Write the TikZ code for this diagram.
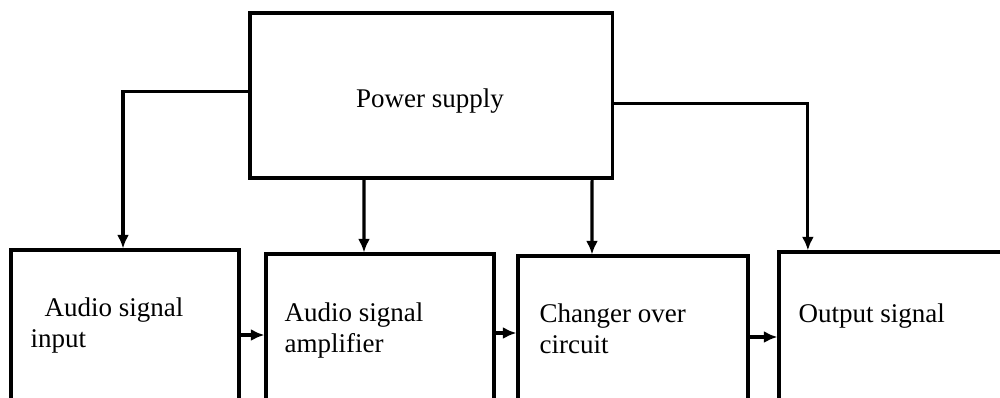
\documentclass[tikz,border=0pt]{standalone}
\usepackage{fontspec}
\setmainfont{Liberation Serif}
\usetikzlibrary{arrows.meta,positioning}

\begin{document}
\begin{tikzpicture}[x=0.025cm,y=-0.025cm,line width=2.2pt,>={Latex[length=0.34cm,width=0.3cm]},
  blk/.style={draw,rectangle,inner sep=0pt},
  txt/.style={anchor=base west,inner sep=0pt,align=left,font=\fontsize{19.2}{21.6}\selectfont}]
\useasboundingbox (0,0) rectangle (1000,397);
\clip (0,0) rectangle (1000,397);
% blocks (bottoms and the last right side run off the page)
\node[blk,minimum width=9.05cm,minimum height=4.125cm] (ps) at (431,95.5) {};
\node[blk,minimum width=5.7cm,minimum height=4.5cm] (in) at (125,340) {};
\node[blk,minimum width=5.7cm,minimum height=4.4cm] (amp) at (380,342) {};
\node[blk,minimum width=5.75cm,minimum height=4.35cm] (chg) at (633,343) {};
\node[blk,minimum width=6.525cm,minimum height=4.45cm] (out) at (909.5,341) {};
% texts (base = last line)
\node[txt,anchor=base] (pstxt) at (430,107) {Power supply};
\node[txt] (intxt) at (29,347) {\hspace*{0.35cm}Audio signal\\input};
\node[txt] (amptxt) at (283,352) {Audio signal\\amplifier};
\node[txt] (chgtxt) at (538,353) {Changer over\\circuit};
\node[txt] (outtxt) at (797,322) {Output signal};
% supply lines
\draw[->] ([yshift=0.09cm]ps.west) -| ([xshift=-0.05cm]in.north);
\draw[->] ([xshift=-1.675cm]ps.south) -- ([xshift=-0.4cm]amp.north);
\draw[->] ([xshift=4.025cm]ps.south) -- ([xshift=-1.025cm]chg.north);
\draw[->] ([yshift=-0.19cm]ps.east) -| ([xshift=-2.54cm]out.north);
% signal path
\draw[->] ([yshift=0.125cm]in.east) -- ([yshift=0.125cm]in.east -| amp.west);
\draw[->] ([yshift=0.225cm]amp.east) -- ([yshift=0.225cm]amp.east -| chg.west);
\draw[->] ([yshift=0.15cm]chg.east) -- ([yshift=0.15cm]chg.east -| out.west);
\end{tikzpicture}
\end{document}
